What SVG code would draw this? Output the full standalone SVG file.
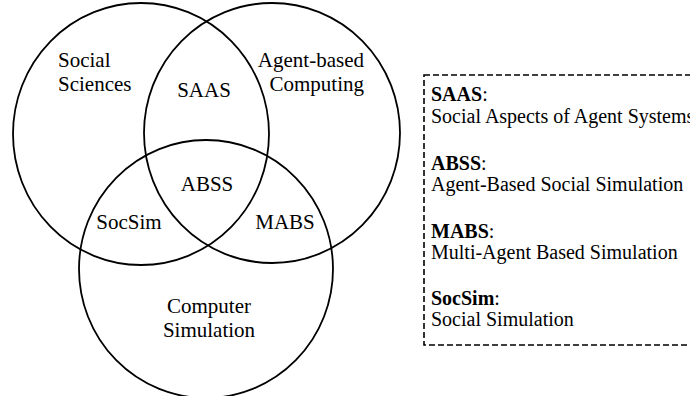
<svg xmlns="http://www.w3.org/2000/svg" width="690" height="396" viewBox="0 0 690 396">
<style>
.c{fill:none;stroke:#000;stroke-width:1.8}
.lbl{font-family:"Liberation Serif","Times New Roman",serif;font-size:21px;fill:#000}
.lg{font-family:"Liberation Serif","Times New Roman",serif;font-size:20px;fill:#000}
.b{font-weight:bold}
.box{fill:none;stroke:#000;stroke-width:1.6;stroke-dasharray:6 3}
</style>
<rect width="690" height="396" fill="#fff"/>
<g id="social-sciences">
<ellipse class="c" cx="141" cy="134" rx="128" ry="131"/>
<text class="lbl" x="58" y="67">Social</text>
<text class="lbl" x="58" y="91">Sciences</text>
</g>
<g id="agent-based-computing">
<ellipse class="c" cx="272" cy="133" rx="128" ry="130"/>
<text class="lbl" x="364" y="67" text-anchor="end">Agent-based</text>
<text class="lbl" x="364" y="91" text-anchor="end">Computing</text>
</g>
<g id="computer-simulation">
<ellipse class="c" cx="206" cy="269" rx="127" ry="129"/>
<text class="lbl" x="209" y="313" text-anchor="middle">Computer</text>
<text class="lbl" x="209" y="337" text-anchor="middle">Simulation</text>
</g>
<g id="saas"><text class="lbl" x="204" y="97" text-anchor="middle">SAAS</text></g>
<g id="abss"><text class="lbl" x="207" y="191" text-anchor="middle">ABSS</text></g>
<g id="socsim"><text class="lbl" x="129" y="229" text-anchor="middle">SocSim</text></g>
<g id="mabs"><text class="lbl" x="285" y="229" text-anchor="middle">MABS</text></g>
<g id="connectors"></g>
<g id="legend">
<rect class="box" x="424" y="75" width="280" height="270"/>
<text class="lg" x="431" y="101"><tspan class="b">SAAS</tspan>:</text>
<text class="lg" x="431" y="123">Social Aspects of Agent Systems</text>
<text class="lg" x="431" y="170"><tspan class="b">ABSS</tspan>:</text>
<text class="lg" x="431" y="191">Agent-Based Social Simulation</text>
<text class="lg" x="431" y="238"><tspan class="b">MABS</tspan>:</text>
<text class="lg" x="431" y="259">Multi-Agent Based Simulation</text>
<text class="lg" x="431" y="305"><tspan class="b">SocSim</tspan>:</text>
<text class="lg" x="431" y="326">Social Simulation</text>
</g>
</svg>
